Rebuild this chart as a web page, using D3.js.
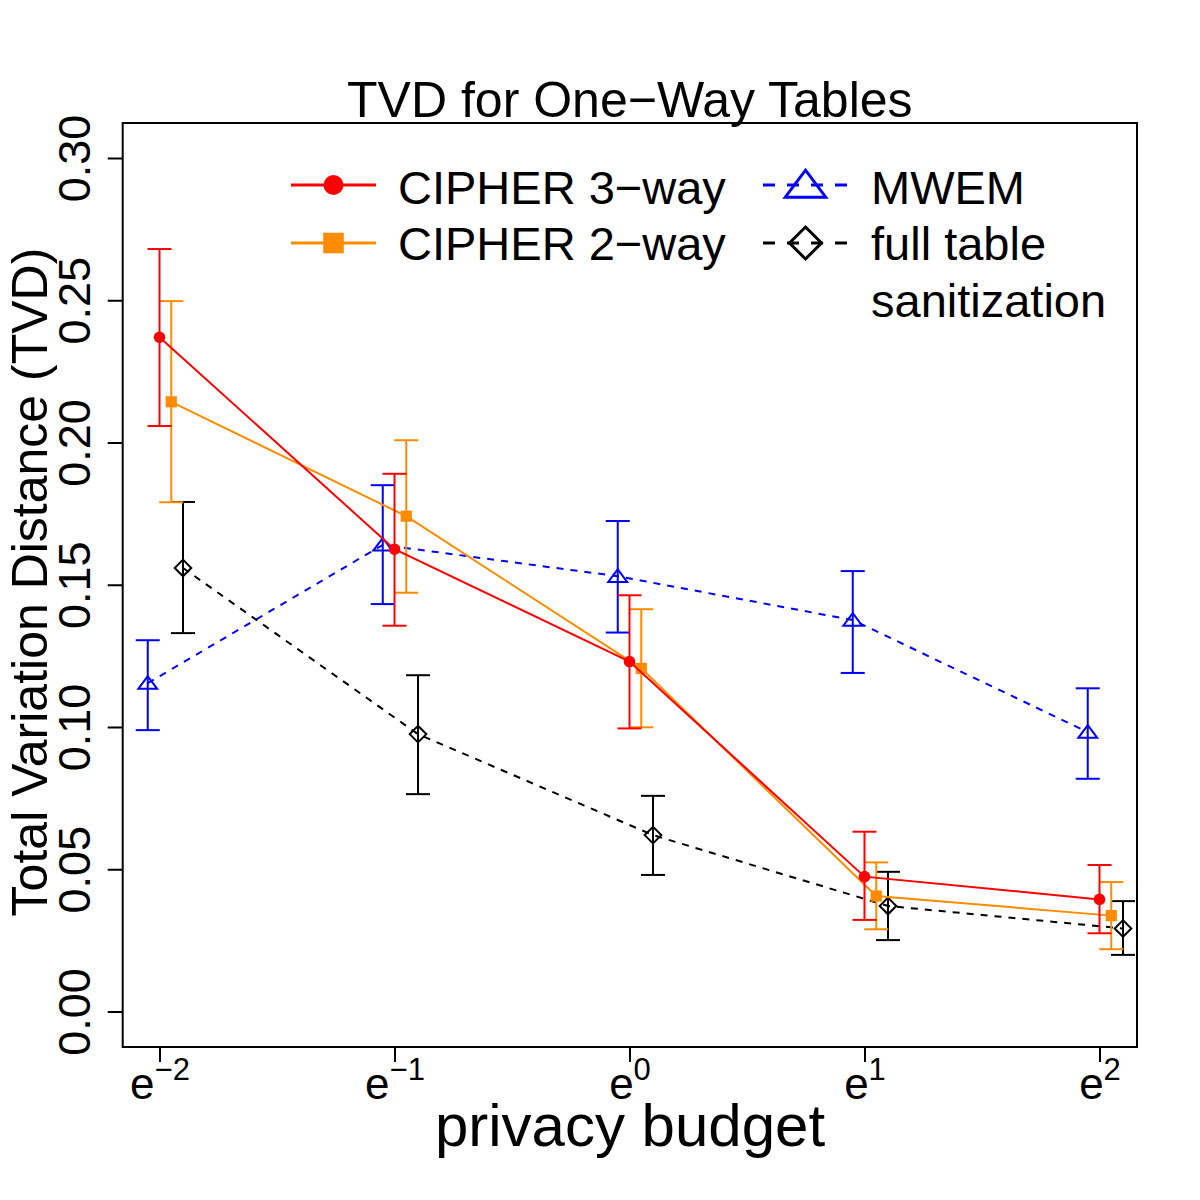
<!DOCTYPE html>
<html><head><meta charset="utf-8">
<script src="https://cdn.jsdelivr.net/npm/d3@7"></script>
<style>body{margin:0;background:#fff}svg{display:block}text{font-family:"Liberation Sans",Arial,Helvetica,sans-serif}</style>
</head><body>
<svg id="c" width="1200" height="1200"></svg>
<script>
// ---- data ----
const logBudget = [-2, -1, 0, 1, 2];
const xTickExponents = ["−2", "−1", "0", "1", "2"];
const yTicks = [0, 0.05, 0.10, 0.15, 0.20, 0.25, 0.30];

const cipher3Mean = [0.237, 0.1625, 0.123, 0.0474, 0.0394];
const cipher3Lo   = [0.2058, 0.1356, 0.0995, 0.0322, 0.0275];
const cipher3Hi   = [0.268, 0.189, 0.1463, 0.0632, 0.0515];

const cipher2Mean = [0.2143, 0.1741, 0.1206, 0.0406, 0.0337];
const cipher2Lo   = [0.179, 0.1472, 0.0999, 0.0289, 0.0219];
const cipher2Hi   = [0.2497, 0.2008, 0.1414, 0.0524, 0.0455];

const mwemMean = [0.1154, 0.164, 0.153, 0.1376, 0.0982];
const mwemLo   = [0.0989, 0.1432, 0.1332, 0.119, 0.0818];
const mwemHi   = [0.1305, 0.185, 0.1724, 0.1548, 0.1136];

const fullMean = [0.1559, 0.0975, 0.062, 0.0371, 0.0292];
const fullLo   = [0.133, 0.0764, 0.048, 0.0251, 0.0199];
const fullHi   = [0.1791, 0.1182, 0.0758, 0.0491, 0.0388];

const seriesNames = ["CIPHER 3−way", "CIPHER 2−way", "MWEM", "full table sanitization"];

// ---- layout ----
const svg = d3.select("#c");
const box = {l: 122.7, r: 1137, t: 123, b: 1047};
const x = d3.scaleLinear().domain([-2, 2]).range([159.5, 1099.5]);
const y = d3.scaleLinear().domain([0, 0.30]).range([1011.5, 158]);

const series = [
  {name: seriesNames[2], mean: mwemMean, lo: mwemLo, hi: mwemHi, color: "#0000FF", dash: "7,7", shape: "tri", off: -0.05},
  {name: seriesNames[3], mean: fullMean, lo: fullLo, hi: fullHi, color: "#000000", dash: "7,7", shape: "dia", off: 0.10},
  {name: seriesNames[1], mean: cipher2Mean, lo: cipher2Lo, hi: cipher2Hi, color: "#FF8C00", dash: null, shape: "sq", off: 0.05},
  {name: seriesNames[0], mean: cipher3Mean, lo: cipher3Lo, hi: cipher3Hi, color: "#FF0000", dash: null, shape: "circ", off: 0}
];

function marker(g, shape, cx, cy, s, color, lw) {
  if (shape === "circ") {
    g.append("circle").attr("cx", cx).attr("cy", cy).attr("r", s).attr("fill", color);
  } else if (shape === "sq") {
    g.append("rect").attr("x", cx - s).attr("y", cy - s).attr("width", 2 * s).attr("height", 2 * s).attr("fill", color);
  } else if (shape === "tri") {
    const w = s * 1.25, h = s * 1.0;
    g.append("path").attr("d", `M${cx},${cy - h * 0.55}L${cx + w * 0.6},${cy + h * 0.45}L${cx - w * 0.6},${cy + h * 0.45}Z`)
      .attr("fill", "none").attr("stroke", color).attr("stroke-width", lw);
  } else if (shape === "dia") {
    g.append("path").attr("d", `M${cx},${cy - s}L${cx + s},${cy}L${cx},${cy + s}L${cx - s},${cy}Z`)
      .attr("fill", "none").attr("stroke", color).attr("stroke-width", lw);
  }
}

const plot = svg.append("g");
series.forEach(s => {
  const pts = logBudget.map((v, i) => [x(v + s.off), y(s.mean[i])]);
  plot.append("path").attr("d", d3.line()(pts)).attr("fill", "none")
    .attr("stroke", s.color).attr("stroke-width", 2).attr("stroke-dasharray", s.dash);
  logBudget.forEach((v, i) => {
    const cx = x(v + s.off);
    const g = plot.append("g").attr("stroke", s.color).attr("stroke-width", 2);
    g.append("line").attr("x1", cx).attr("x2", cx).attr("y1", y(s.lo[i])).attr("y2", y(s.hi[i]));
    g.append("line").attr("x1", cx - 12).attr("x2", cx + 12).attr("y1", y(s.lo[i])).attr("y2", y(s.lo[i]));
    g.append("line").attr("x1", cx - 12).attr("x2", cx + 12).attr("y1", y(s.hi[i])).attr("y2", y(s.hi[i]));
  });
  const size = {circ: 5.8, sq: 5.6, tri: 12.6, dia: 8.3}[s.shape];
  logBudget.forEach((v, i) => marker(plot, s.shape, x(v + s.off), y(s.mean[i]), size, s.color, 2));
});

// box
svg.append("rect").attr("x", box.l).attr("y", box.t).attr("width", box.r - box.l).attr("height", box.b - box.t)
  .attr("fill", "none").attr("stroke", "#000").attr("stroke-width", 2);

// y axis
const ya = svg.append("g").attr("transform", `translate(${box.l},0)`)
  .call(d3.axisLeft(y).tickValues(yTicks).tickSize(15).tickFormat(d3.format(".2f")));
ya.select(".domain").remove();
ya.selectAll(".tick line").attr("stroke", "#000").attr("stroke-width", 2);
ya.selectAll(".tick text").attr("x", 0).attr("dy", 0)
  .attr("transform", "translate(-33,0) rotate(-90)")
  .attr("text-anchor", "middle").attr("font-size", 45).attr("fill", "#000");

// x axis
const xa = svg.append("g").attr("transform", `translate(0,${box.b})`)
  .call(d3.axisBottom(x).tickValues(logBudget).tickSize(15).tickFormat(""));
xa.select(".domain").remove();
xa.selectAll(".tick line").attr("stroke", "#000").attr("stroke-width", 2);
xa.selectAll(".tick text").remove();
xa.selectAll(".tick").each(function (d, i) {
  const t = d3.select(this).append("text").attr("y", 52).attr("text-anchor", "middle").attr("fill", "#000");
  t.append("tspan").attr("font-size", 44).text("e");
  t.append("tspan").attr("font-size", 31).attr("dy", -19).text(xTickExponents[i]);
});

// titles
svg.append("text").attr("x", (box.l + box.r) / 2).attr("y", 117).attr("text-anchor", "middle")
  .attr("font-size", 50).text("TVD for One−Way Tables");
svg.append("text").attr("x", 630).attr("y", 1146).attr("text-anchor", "middle")
  .attr("font-size", 60).text("privacy budget");
svg.append("text").attr("transform", `translate(47,${(box.t + box.b) / 2 - 3}) rotate(-90)`)
  .attr("text-anchor", "middle").attr("font-size", 50).text("Total Variation Distance (TVD)");

// legend
const leg = svg.append("g");
const legItems = [
  {s: series[3], lx: 291, ty: 204, my: 185, label: [seriesNames[0]]},
  {s: series[2], lx: 291, ty: 260, my: 243, label: [seriesNames[1]]},
  {s: series[0], lx: 763, ty: 204, my: 185, label: [seriesNames[2]]},
  {s: series[1], lx: 763, ty: 260, my: 243, label: ["full table", "sanitization"]}
];
legItems.forEach(it => {
  const s = it.s;
  leg.append("line").attr("x1", it.lx).attr("x2", it.lx + 85).attr("y1", it.my).attr("y2", it.my)
    .attr("stroke", s.color).attr("stroke-width", 3).attr("stroke-dasharray", s.dash ? "12,12" : null);
  const sz = {circ: 10, sq: 10.3, tri: 27, dia: 16}[s.shape];
  marker(leg, s.shape, it.lx + 42.5, it.my, sz, s.color, 3);
  it.label.forEach((l, j) => {
    leg.append("text").attr("x", it.lx + (s.dash ? 108 : 107)).attr("y", it.ty + j * 57)
      .attr("font-size", 47).text(l);
  });
});
</script>
</body></html>
